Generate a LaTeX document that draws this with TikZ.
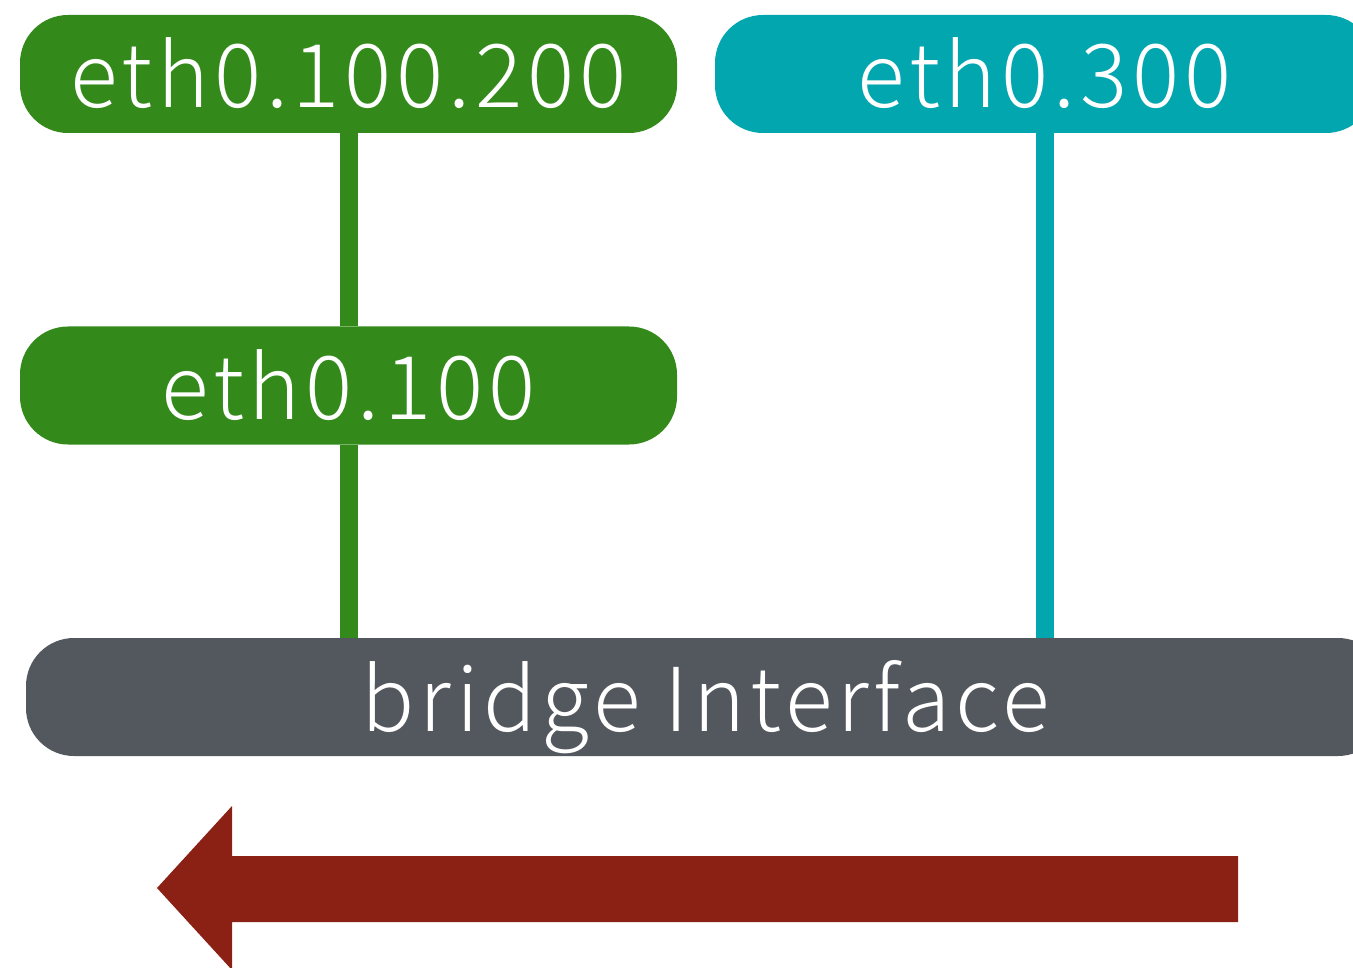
\documentclass[tikz,border=0pt]{standalone}
\usepackage{fontspec}
\setmainfont[LetterSpace=5.5]{Noto Sans CJK JP Light}
\definecolor{vgreen}{HTML}{338A1A}
\definecolor{vteal}{HTML}{02A6AF}
\definecolor{vgray}{HTML}{53575E}
\definecolor{vred}{HTML}{8B2015}
\tikzset{
  iface/.style={rounded corners=48pt, minimum height=118pt, inner sep=0pt,
    text height=68pt, text depth=0pt,
    text=white, font=\fontsize{88}{90}\selectfont, anchor=center},
  link/.style={line width=18pt}
}
\begin{document}
\begin{tikzpicture}[x=1pt,y=-1pt]
\useasboundingbox (0,0) rectangle (1353,968);
% interface boxes
\node[iface, fill=vgreen, minimum width=657pt] (vlan2) at (348.5,74) {eth0.100.200};
\node[iface, fill=vgreen, minimum width=657pt] (vlan1) at (348.5,385.5) {eth0.100};
\node[iface, fill=vteal, minimum width=659pt] (vlan3) at (1044.5,74) {eth0.300};
\node[iface, fill=vgray, minimum width=1360pt] (br) at (706,697) {bridge Interface};
% links between the interfaces
\draw[link, vgreen] (vlan2.south) -- (vlan1.north);
\draw[link, vgreen] (vlan1.south) -- (vlan1.south |- br.north);
\draw[link, vteal] (vlan3.south) -- (vlan3.south |- br.north);
% direction arrow
\fill[vred] (1238,856) -- (232,856) -- (232,806) -- (157,888) -- (232,970) -- (232,922) -- (1238,922) -- cycle;
\end{tikzpicture}
\end{document}
